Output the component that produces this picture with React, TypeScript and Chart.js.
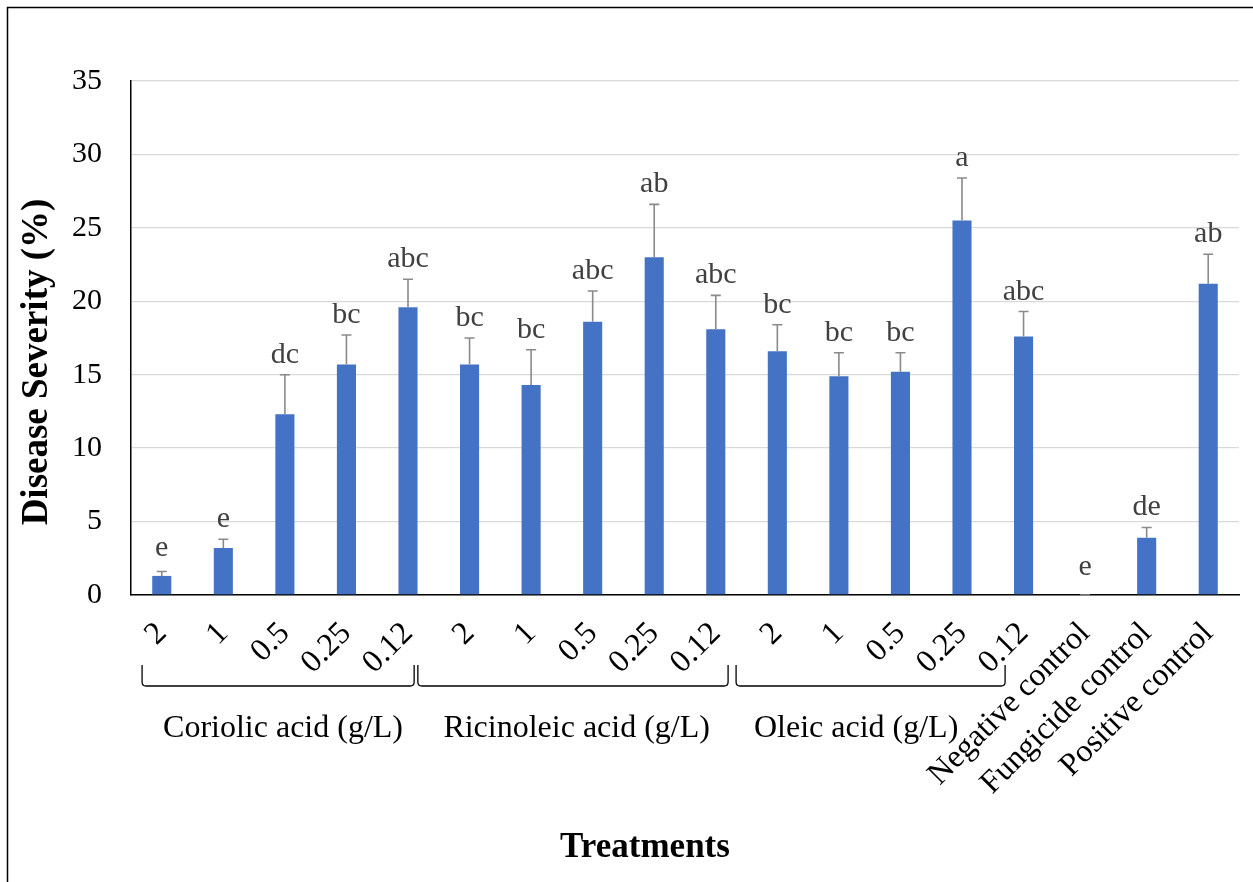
import React, { useEffect, useRef } from "react";
import { Chart, registerables } from "chart.js";

Chart.register(...registerables);

const categories = [
  "2", "1", "0.5", "0.25", "0.12",
  "2", "1", "0.5", "0.25", "0.12",
  "2", "1", "0.5", "0.25", "0.12",
  "Negative control", "Fungicide control", "Positive control",
];
const severity = [1.3, 3.2, 12.3, 15.7, 19.6, 15.7, 14.3, 18.6, 23.0, 18.1, 16.6, 14.9, 15.2, 25.5, 17.6, 0, 3.9, 21.2];
const errorUp = [0.3, 0.6, 2.7, 2.0, 1.9, 1.8, 2.4, 2.1, 3.6, 2.3, 1.8, 1.6, 1.3, 2.9, 1.7, 0, 0.7, 2.0];
const letters = ["e", "e", "dc", "bc", "abc", "bc", "bc", "abc", "ab", "abc", "bc", "bc", "bc", "a", "abc", "e", "de", "ab"];
const groupNames = ["Coriolic acid (g/L)", "Ricinoleic acid (g/L)", "Oleic acid (g/L)"];
const groupSpans = [[-0.32, 4.1], [4.16, 9.2], [9.33, 13.7]];
const groupLabelCenters = [1.97, 6.74, 11.28];
const yMin = 0;
const yMax = 35;
const yStep = 5;
const yTitle = "Disease Severity (%)";
const xTitle = "Treatments";

const SERIF = "'Liberation Serif', 'Times New Roman', serif";

const overlayPlugin = {
  id: "overlay",
  afterDraw(chart: any) {
    const ctx = chart.ctx;
    const xs = chart.scales.x;
    const ys = chart.scales.y;
    const x0 = xs.getPixelForValue(0);
    const step = xs.getPixelForValue(1) - x0;
    const px = (i: number) => x0 + i * step;

    ctx.save();
    // error bars
    ctx.strokeStyle = "#8a8a8a";
    ctx.lineWidth = 1.6;
    for (let i = 0; i < severity.length; i++) {
      const x = px(i);
      const yb = ys.getPixelForValue(severity[i]);
      const yt = ys.getPixelForValue(severity[i] + errorUp[i]);
      ctx.beginPath();
      ctx.moveTo(x, yb);
      ctx.lineTo(x, yt);
      ctx.moveTo(x - 5, yt);
      ctx.lineTo(x + 5, yt);
      ctx.stroke();
    }
    // letters
    ctx.fillStyle = "#404040";
    ctx.font = `30px ${SERIF}`;
    ctx.textAlign = "center";
    ctx.textBaseline = "alphabetic";
    for (let i = 0; i < severity.length; i++) {
      const x = px(i);
      const yb = ys.getPixelForValue(severity[i]);
      const yt = ys.getPixelForValue(severity[i] + errorUp[i]);
      const base = Math.min(yt - 12, yb - 20);
      ctx.fillText(letters[i], x, base);
    }
    // brackets
    ctx.strokeStyle = "#000";
    ctx.lineWidth = 1.3;
    const bTop = 665;
    const bBot = 686;
    for (const [a, b] of groupSpans) {
      const l = px(a);
      const r = px(b);
      ctx.beginPath();
      ctx.moveTo(l, bTop);
      ctx.lineTo(l, bBot - 4);
      ctx.quadraticCurveTo(l, bBot, l + 4, bBot);
      ctx.lineTo(r - 4, bBot);
      ctx.quadraticCurveTo(r, bBot, r, bBot - 4);
      ctx.lineTo(r, bTop);
      ctx.stroke();
    }
    // group labels
    ctx.fillStyle = "#000";
    ctx.font = `32px ${SERIF}`;
    ctx.textAlign = "center";
    for (let g = 0; g < groupNames.length; g++) {
      ctx.fillText(groupNames[g], px(groupLabelCenters[g]), 737);
    }
    // x title
    ctx.font = `bold 35px ${SERIF}`;
    ctx.fillText(xTitle, 645, 857);
    // y title
    ctx.save();
    ctx.translate(47, 362);
    ctx.rotate(-Math.PI / 2);
    ctx.font = `bold 37px ${SERIF}`;
    ctx.textAlign = "center";
    ctx.textBaseline = "alphabetic";
    ctx.fillText(yTitle, 0, 0);
    ctx.restore();
    // frame lines
    ctx.strokeStyle = "#000";
    ctx.lineWidth = 1.5;
    ctx.beginPath();
    ctx.moveTo(7.5, 882);
    ctx.lineTo(7.5, 7.5);
    ctx.lineTo(1253, 7.5);
    ctx.stroke();
    ctx.restore();
  },
};

export default function App() {
  const ref = useRef<HTMLCanvasElement>(null);
  useEffect(() => {
    if (!ref.current) return;
    const chart = new Chart(ref.current, {
      type: "bar",
      data: {
        labels: categories,
        datasets: [
          {
            data: severity,
            backgroundColor: "#4472C4",
            borderWidth: 0,
            barPercentage: 0.31,
            categoryPercentage: 1,
          },
        ],
      },
      options: {
        responsive: false,
        animation: false,
        devicePixelRatio: 1,
        layout: { padding: { left: 0, top: 81, right: 14, bottom: 0 } },
        plugins: { legend: { display: false }, tooltip: { enabled: false }, title: { display: false } },
        scales: {
          x: {
            grid: { display: false, drawTicks: false },
            border: { display: true, color: "#000", width: 1.5 },
            ticks: {
              autoSkip: false,
              minRotation: 45,
              maxRotation: 45,
              padding: 20,
              color: "#000",
              font: { family: SERIF, size: 32 },
            },
            afterFit(scale: any) {
              scale.height = 287;
              scale.paddingLeft = 0;
              scale.paddingRight = 0;
            },
          },
          y: {
            min: yMin,
            max: yMax,
            grid: { color: "#d9d9d9", lineWidth: 1.3, drawTicks: false },
            border: { display: true, color: "#000", width: 1.5 },
            ticks: {
              stepSize: yStep,
              padding: 29,
              color: "#000",
              font: { family: SERIF, size: 30 },
            },
            afterFit(scale: any) {
              scale.width = 131;
              scale.paddingTop = 0;
              scale.paddingBottom = 0;
            },
          },
        },
      },
      plugins: [overlayPlugin],
    });
    return () => chart.destroy();
  }, []);
  return (
    <div style={{ position: "fixed", left: 0, top: 0, width: 1253, height: 882, background: "#fff" }}>
      <canvas ref={ref} width={1253} height={882} style={{ width: 1253, height: 882, display: "block" }} />
    </div>
  );
}
